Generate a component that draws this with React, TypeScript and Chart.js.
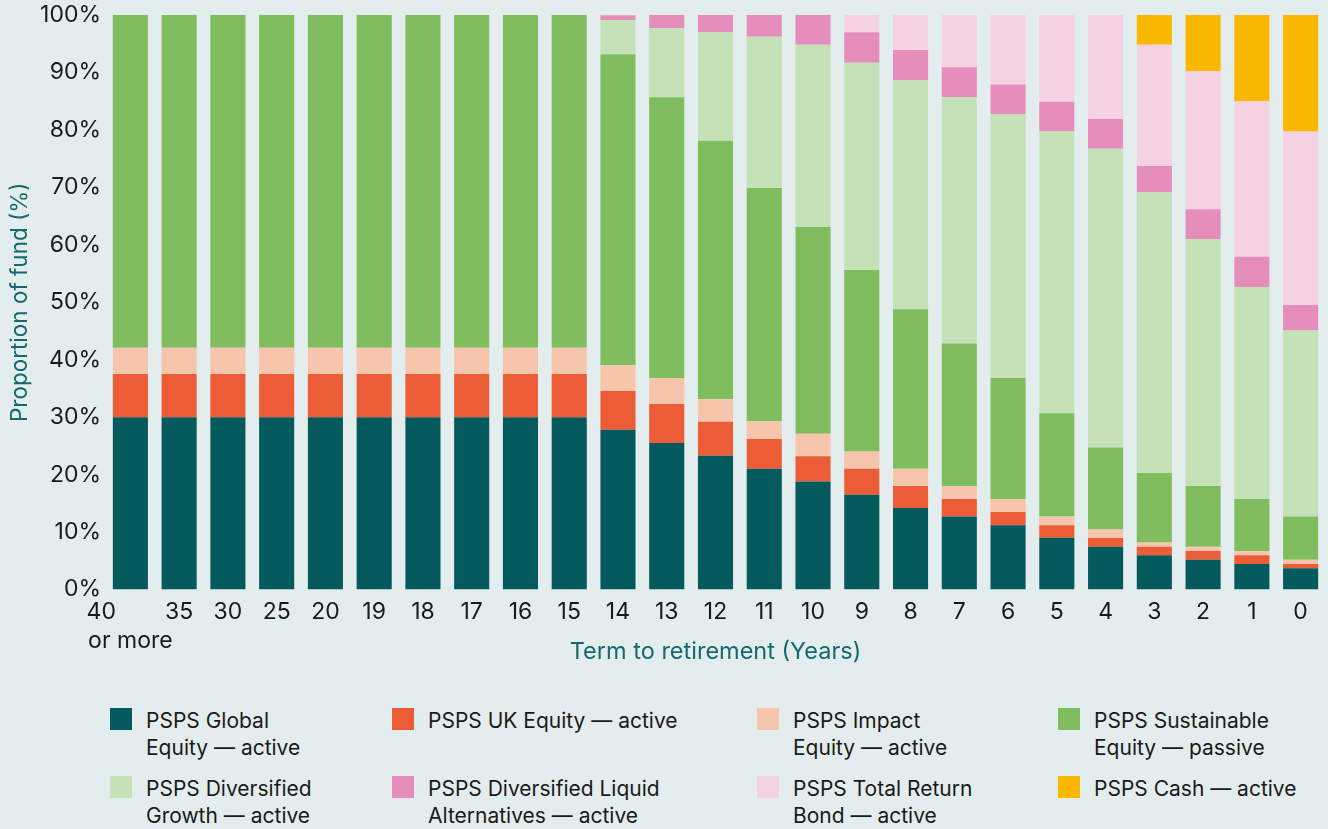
import React, { useEffect, useRef } from "react";
import { Chart, registerables } from "chart.js";

Chart.register(...registerables);

const categories: (string | string[])[] = [
  ["40" + " ".repeat(9), "or more"],
  "35", "30", "25", "20", "19", "18", "17", "16", "15",
  "14", "13", "12", "11", "10", "9", "8", "7", "6", "5", "4", "3", "2", "1", "0",
];

const globalEquity = [30, 30, 30, 30, 30, 30, 30, 30, 30, 30, 27.8, 25.5, 23.3, 21.0, 18.8, 16.5, 14.2, 12.7, 11.2, 9.0, 7.45, 5.95, 5.2, 4.45, 3.7];
const ukEquity = [7.5, 7.5, 7.5, 7.5, 7.5, 7.5, 7.5, 7.5, 7.5, 7.5, 6.75, 6.8, 5.9, 5.2, 4.4, 4.5, 3.8, 3.05, 2.3, 2.2, 1.5, 1.5, 1.5, 1.5, 0.75];
const impactEquity = [4.6, 4.6, 4.6, 4.6, 4.6, 4.6, 4.6, 4.6, 4.6, 4.6, 4.5, 4.5, 3.9, 3.1, 3.9, 3.0, 3.0, 2.25, 2.25, 1.5, 1.5, 0.75, 0.75, 0.75, 0.75];
const sustainableEquity = [57.9, 57.9, 57.9, 57.9, 57.9, 57.9, 57.9, 57.9, 57.9, 57.9, 54.1, 48.9, 45.0, 40.6, 36.0, 31.6, 27.8, 24.8, 21.05, 18.0, 14.25, 12.1, 10.55, 9.05, 7.5];
const diversifiedGrowth = [0, 0, 0, 0, 0, 0, 0, 0, 0, 0, 6.0, 12.0, 18.9, 26.3, 31.7, 36.1, 39.9, 42.9, 45.9, 49.0, 52.0, 48.9, 42.95, 36.9, 32.4];
const liquidAlternatives = [0, 0, 0, 0, 0, 0, 0, 0, 0, 0, 0.8, 2.3, 3.0, 3.8, 5.2, 5.3, 5.2, 5.2, 5.2, 5.2, 5.2, 4.5, 5.25, 5.25, 4.4];
const totalReturnBond = [0, 0, 0, 0, 0, 0, 0, 0, 0, 0, 0, 0, 0, 0, 0, 3.0, 6.1, 9.1, 12.1, 15.1, 18.1, 21.1, 24.05, 27.1, 30.2];
const cash = [0, 0, 0, 0, 0, 0, 0, 0, 0, 0, 0, 0, 0, 0, 0, 0, 0, 0, 0, 0, 0, 5.2, 9.75, 15.0, 20.3];

const yTicks = [0, 10, 20, 30, 40, 50, 60, 70, 80, 90, 100];

const seriesNames = [
  ["PSPS Global", "Equity — active"],
  ["PSPS UK Equity — active"],
  ["PSPS Impact", "Equity — active"],
  ["PSPS Sustainable", "Equity — passive"],
  ["PSPS Diversified", "Growth — active"],
  ["PSPS Diversified Liquid", "Alternatives — active"],
  ["PSPS Total Return", "Bond — active"],
  ["PSPS Cash — active"],
];
const seriesColors = ["#055a5e", "#ec5c37", "#f7c4ac", "#7fbd5f", "#c5e1b8", "#e68ebb", "#f4d2e2", "#fab800"];
const seriesValues = [globalEquity, ukEquity, impactEquity, sustainableEquity, diversifiedGrowth, liquidAlternatives, totalReturnBond, cash];

const legendOrder = [0, 1, 2, 3, 4, 5, 6, 7];

const FONT = "Inter, 'DejaVu Sans', sans-serif";
const TEAL = "#16696b";
const INK = "#1a1a1a";
const BG = "#e4eded";

export default function App() {
  const canvasRef = useRef<HTMLCanvasElement | null>(null);

  useEffect(() => {
    const canvas = canvasRef.current;
    if (!canvas) return;
    const chart = new Chart(canvas, {
      type: "bar",
      data: {
        labels: categories,
        datasets: seriesValues.map((vals, i) => ({
          label: seriesNames[i].join(" "),
          data: vals,
          backgroundColor: seriesColors[i],
          borderWidth: 0,
          barPercentage: 0.72,
          categoryPercentage: 1,
        })),
      },
      options: {
        animation: false,
        responsive: false,
        devicePixelRatio: 1,
        layout: { padding: { top: 15, right: 3, left: 0, bottom: 0 } },
        plugins: {
          legend: { display: false },
          tooltip: { enabled: false },
        },
        scales: {
          x: {
            stacked: true,
            grid: { display: false, drawTicks: false },
            border: { display: false },
            ticks: {
              color: INK,
              font: { family: FONT, size: 23, lineHeight: 1.22 },
              padding: 9,
              maxRotation: 0,
              autoSkip: false,
            },
            title: {
              display: true,
              text: "Term to retirement (Years)",
              color: TEAL,
              font: { family: FONT, size: 23.5 },
              padding: { top: 4, bottom: 9 },
            },
            afterFit: (scale: any) => {
              scale.height = 85.5;
            },
          },
          y: {
            stacked: true,
            min: 0,
            max: 100,
            grid: { display: false, drawTicks: false },
            border: { display: false },
            afterBuildTicks: (scale: any) => {
              scale.ticks = yTicks.map((v) => ({ value: v }));
            },
            ticks: {
              color: INK,
              font: { family: FONT, size: 23, lineHeight: 0.9 },
              padding: 5,
              callback: (v: any) => v + "%",
            },
            title: {
              display: true,
              text: "Proportion of fund (%)",
              color: TEAL,
              font: { family: FONT, size: 22.5 },
              padding: { top: 6.5, bottom: 0 },
            },
            afterFit: (scale: any) => {
              scale.width = 106;
              scale.paddingTop = 0;
              scale.paddingBottom = 0;
            },
          },
        },
      },
    });
    return () => chart.destroy();
  }, []);

  const colLefts = [110, 392, 757, 1058];
  const rowTops = [708, 776];

  return (
    <div style={{ position: "fixed", left: 0, top: 0, width: 1328, height: 829, background: BG, overflow: "hidden" }}>
      <canvas ref={canvasRef} width={1328} height={675} style={{ position: "absolute", left: 0, top: 0, width: 1328, height: 675 }} />
      {legendOrder.map((si, k) => {
        const col = k % 4;
        const row = Math.floor(k / 4);
        return (
          <div
            key={si}
            style={{
              position: "absolute",
              left: colLefts[col],
              top: rowTops[row],
              display: "flex",
              alignItems: "flex-start",
              fontFamily: FONT,
              fontSize: 21,
              color: INK,
            }}
          >
            <div style={{ width: 22, height: 22, background: seriesColors[si], flex: "0 0 auto" }} />
            <div style={{ marginLeft: 14, lineHeight: "27px", marginTop: -1 }}>
              {seriesNames[si].map((line, j) => (
                <div key={j} style={{ whiteSpace: "nowrap" }}>{line}</div>
              ))}
            </div>
          </div>
        );
      })}
    </div>
  );
}
